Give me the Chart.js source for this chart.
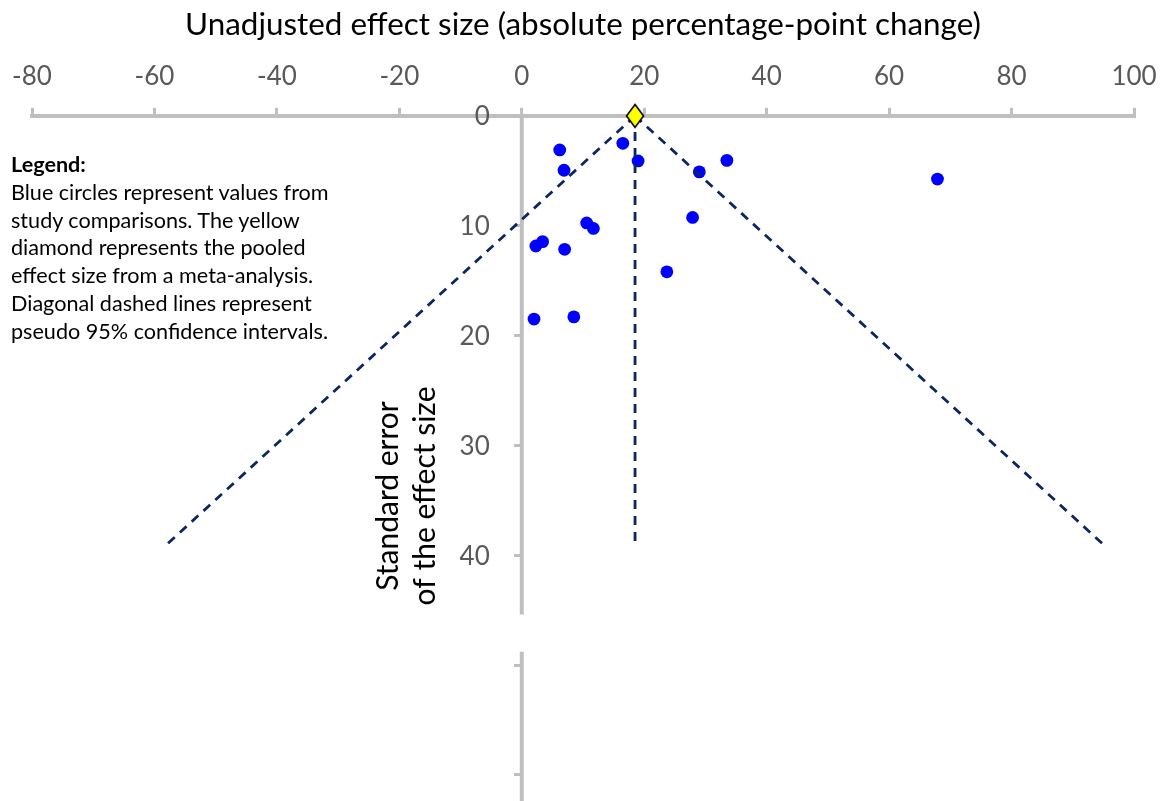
<!DOCTYPE html>
<html>
<head>
<meta charset="utf-8">
<script src="https://cdn.jsdelivr.net/npm/chart.js@4"></script>
<style>
  body { margin: 0; background: #fff; }
  #wrap { position: relative; width: 1163px; height: 801px; }
  #note {
    position: absolute; left: 11px; top: 151px; white-space: nowrap;
    font-family: Lato, sans-serif; font-size: 21.6px; line-height: 27.8px; color: #000;
  }
</style>
</head>
<body>
<div id="wrap">
  <canvas id="funnel" width="1163" height="801"></canvas>
  <div id="note"><b>Legend:</b><br>Blue circles represent values from<br>study comparisons. The yellow<br>diamond represents the pooled<br>effect size from a meta-analysis.<br>Diagonal dashed lines represent<br>pseudo 95% confidence intervals.</div>
</div>
<script>
// study comparisons: effect size (x) and its standard error (y)
const effectSize = [6.2, 6.9, 16.5, 19.0, 29.0, 33.5, 67.9, 27.9, 10.6, 11.7, 3.4, 2.3, 7.0, 23.7, 2.0, 8.5]
const standardError = [3.1, 4.95, 2.5, 4.1, 5.1, 4.05, 5.75, 9.25, 9.75, 10.25, 11.45, 11.85, 12.15, 14.2, 18.5, 18.3]

// pooled estimate and the depth of the pseudo confidence funnel
const pooledEffect = 18.5
const funnelDepth = 39

const xTicks = [-80, -60, -40, -20, 0, 20, 40, 60, 80, 100]
const yTicks = [0, 10, 20, 30, 40, 50, 60]
const yTickLabels = ['0', '10', '20', '30', '40', '', '']

const points = effectSize.map((x, i) => ({x: x, y: standardError[i]}))

// yellow diamond marker
const diamond = document.createElement('canvas')
diamond.width = 20
diamond.height = 26
{
  const d = diamond.getContext('2d')
  d.beginPath()
  d.moveTo(10, 1.5)
  d.lineTo(18.5, 13)
  d.lineTo(10, 24.5)
  d.lineTo(1.5, 13)
  d.closePath()
  d.fillStyle = '#FFFF00'
  d.fill()
  d.lineWidth = 1.6
  d.strokeStyle = '#000'
  d.stroke()
}

const dash = {
  showLine: true,
  pointRadius: 0,
  borderColor: '#0B2660',
  borderWidth: 2.8,
  borderDash: [9, 7],
  clip: false,
  order: 2
}

// y axis sits at x = 0, its line has a break, labels and title are placed by hand
const axisDecor = {
  id: 'axisDecor',
  beforeDatasetsDraw(chart) {
    const {ctx, scales: {x, y}} = chart
    const ax = x.getPixelForValue(0)
    ctx.save()
    ctx.strokeStyle = '#BFBFBF'
    ctx.lineWidth = 4
    ctx.beginPath()
    ctx.moveTo(ax, y.getPixelForValue(0))
    ctx.lineTo(ax, y.getPixelForValue(45.4))
    ctx.moveTo(ax, y.getPixelForValue(48.8))
    ctx.lineTo(ax, chart.height)
    ctx.stroke()

    ctx.fillStyle = '#595959'
    ctx.font = '26px Lato'
    ctx.textAlign = 'right'
    ctx.textBaseline = 'middle'
    yTicks.forEach((v, i) => ctx.fillText(yTickLabels[i], ax - 32, y.getPixelForValue(v) + 1))
    ctx.restore()
  },
  afterDraw(chart) {
    const {ctx} = chart
    ctx.save()
    ctx.translate(406, 496)
    ctx.rotate(-Math.PI / 2)
    ctx.fillStyle = '#000'
    ctx.font = '30px Lato'
    ctx.textAlign = 'center'
    ctx.textBaseline = 'middle'
    ctx.fillText('Standard error', 0, -18)
    ctx.fillText('of the effect size', 0, 19)
    ctx.restore()
  }
}

new Chart(document.getElementById('funnel'), {
  type: 'scatter',
  data: {
    datasets: [
      {
        label: 'Pooled effect',
        data: [{x: pooledEffect, y: 0}],
        pointStyle: diamond,
        clip: false,
        order: 0
      },
      {
        label: 'Studies',
        data: points,
        backgroundColor: '#0000FF',
        borderWidth: 0,
        pointRadius: 6.4,
        clip: false,
        order: 3
      },
      Object.assign({label: 'Lower 95%', data: [{x: pooledEffect, y: 0}, {x: pooledEffect - 1.96 * funnelDepth, y: funnelDepth}]}, dash),
      Object.assign({label: 'Upper 95%', data: [{x: pooledEffect, y: 0}, {x: pooledEffect + 1.96 * funnelDepth, y: funnelDepth}]}, dash),
      Object.assign({label: 'Pooled', data: [{x: pooledEffect, y: 0}, {x: pooledEffect, y: funnelDepth}]}, dash)
    ]
  },
  options: {
    responsive: false,
    animation: false,
    layout: {padding: {left: 32, right: 29, top: 6, bottom: 0}},
    plugins: {legend: {display: false}, tooltip: {enabled: false}},
    scales: {
      x: {
        type: 'linear',
        position: 'top',
        min: -80,
        max: 100,
        afterBuildTicks: s => { s.ticks = xTicks.map(v => ({value: v})) },
        afterFit: s => { s.paddingLeft = 0; s.paddingRight = 0 },
        ticks: {
          color: '#595959',
          font: {family: 'Lato', size: 26},
          padding: 16,
          callback: v => String(v)
        },
        grid: {drawOnChartArea: false, color: '#BFBFBF', lineWidth: 3, tickLength: 8},
        border: {color: '#BFBFBF', width: 4},
        title: {
          display: true,
          text: 'Unadjusted effect size (absolute percentage-point change)',
          color: '#000',
          font: {family: 'Lato', size: 31.4},
          padding: {top: 0, bottom: 1}
        }
      },
      y: {
        type: 'linear',
        position: {x: 0},
        reverse: true,
        min: 0,
        max: 61.8,
        afterBuildTicks: s => { s.ticks = yTicks.map(v => ({value: v})) },
        afterFit: s => { s.paddingTop = 0; s.paddingBottom = 0 },
        ticks: {display: false},
        grid: {drawOnChartArea: false, color: '#BFBFBF', lineWidth: 3, tickLength: 8},
        border: {display: false}
      }
    }
  },
  plugins: [axisDecor]
})
</script>
</body>
</html>
